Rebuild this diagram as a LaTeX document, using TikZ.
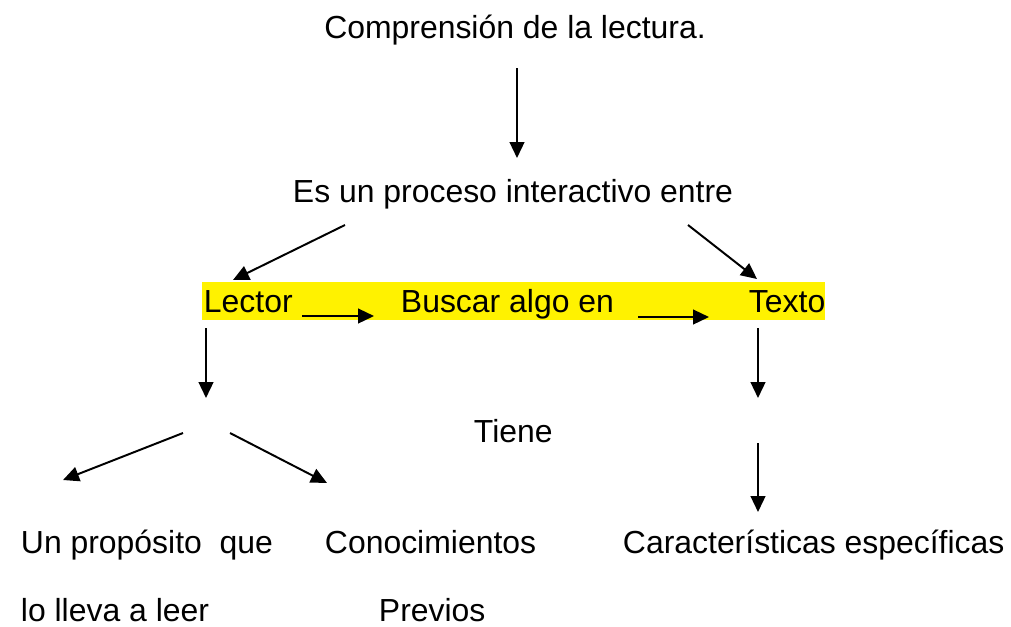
\documentclass[tikz,border=0pt]{standalone}
\usepackage{fontspec}
\setmainfont{Liberation Sans}
\usetikzlibrary{arrows.meta}
\begin{document}
\begin{tikzpicture}[x=0.025cm, y=-0.025cm, >={Triangle[length=0.4cm,width=0.37cm]}, line width=1.4pt, font=\fontsize{22.7}{27}\selectfont, every node/.style={inner sep=0pt}]
		\useasboundingbox (0,0) rectangle (1011,626);
		\fill[yellow] (202,282) rectangle (825,320); % resaltado
		\node (titulo) at (515,38) [anchor=base]{Comprensión de la lectura.};
		\node (proceso) at (513,202) [anchor=base]{Es un proceso interactivo entre};
		\node (lector) at (203,312) [anchor=base west]{Lector};
		\node (buscar) at (400,312) [anchor=base west]{Buscar algo en};
		\node (texto) at (748,312) [anchor=base west]{Texto};
		\node (tiene) at (473,442) [anchor=base west]{Tiene};
		\node (proposito) at (20,553) [anchor=base west]{Un propósito \ que};
		\node (conoc) at (324,553) [anchor=base west]{Conocimientos};
		\node (caract) at (622,553) [anchor=base west]{Características específicas};
		\node (leer) at (20,621) [anchor=base west]{lo lleva a leer};
		\node (previos) at (378,621) [anchor=base west]{Previos};
		\coordinate (a1) at (517,68); \coordinate (a2) at (517,158);
		\coordinate (b1) at (345,225); \coordinate (b2) at (233,280);
		\coordinate (c1) at (688,225); \coordinate (c2) at (757,279);
		\coordinate (d1) at (302,316); \coordinate (d2) at (374,316);
		\coordinate (e1) at (638,317); \coordinate (e2) at (709,317);
		\coordinate (f1) at (206,328); \coordinate (f2) at (206,398);
		\coordinate (g1) at (758,328); \coordinate (g2) at (758,398);
		\coordinate (h1) at (183,433); \coordinate (h2) at (63,480);
		\coordinate (i1) at (230,433); \coordinate (i2) at (327,483);
		\coordinate (j1) at (758,443); \coordinate (j2) at (758,512);
		\draw[->] (a1)--(a2);
		\draw[->] (b1)--(b2);
		\draw[->] (c1)--(c2);
		\draw[->] (d1)--(d2);
		\draw[->] (e1)--(e2);
		\draw[->] (f1)--(f2);
		\draw[->] (g1)--(g2);
		\draw[->] (h1)--(h2);
		\draw[->] (i1)--(i2);
		\draw[->] (j1)--(j2);
\end{tikzpicture}
\end{document}
